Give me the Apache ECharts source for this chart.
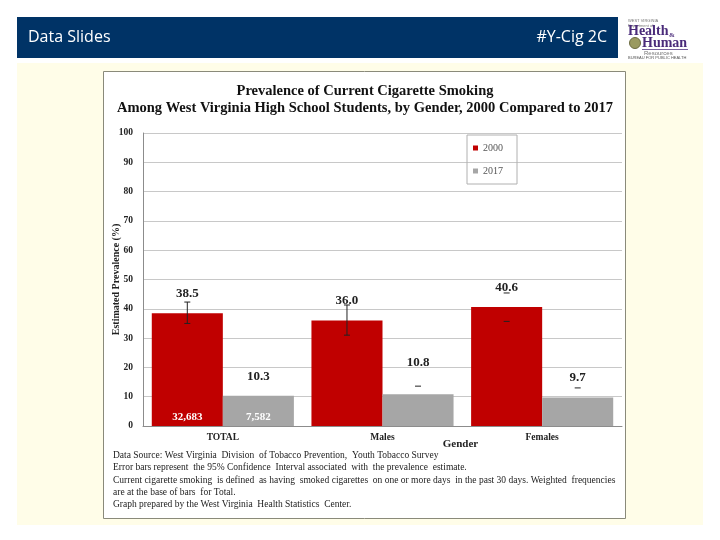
<!DOCTYPE html>
<html>
<head>
<meta charset="utf-8">
<script src="https://cdn.jsdelivr.net/npm/echarts@6/dist/echarts.min.js"></script>
<style>
html,body{margin:0;padding:0;background:#fff;}
#chart{width:720px;height:540px;}
</style>
</head>
<body>
<div id="chart"></div>
<script>
// ---- data ----
const categories = ['TOTAL', 'Males', 'Females'];
const seriesNames = ['2000', '2017'];
const prev2000 = [38.5, 36.0, 40.6];
const prev2017 = [10.3, 10.8, 9.7];
const ci2000Low = [35.0, 31.0, 35.7];
const ci2000High = [42.3, 41.3, 45.4];
const ci2017Low = [null, null, null];
const ci2017High = [null, 13.6, 13.0];
const ci2000Stem = [true, true, false];
const freq2000 = ['32,683', null, null];
const freq2017 = ['7,582', null, null];
const yTicks = [0, 10, 20, 30, 40, 50, 60, 70, 80, 90, 100];

const headerLeft = 'Data Slides';
const headerRight = '#Y-Cig 2C';
const titleText = 'Prevalence of Current Cigarette Smoking\nAmong West Virginia High School Students, by Gender, 2000 Compared to 2017';
const yName = 'Estimated Prevalence (%)';
const xName = 'Gender';
const notes = [
  'Data Source: West Virginia  Division  of Tobacco Prevention,  Youth Tobacco Survey',
  'Error bars represent  the 95% Confidence  Interval associated  with  the prevalence  estimate.',
  'Current cigarette smoking  is defined  as having  smoked cigarettes  on one or more days  in the past 30 days. Weighted  frequencies',
  'are at the base of bars  for Total.',
  'Graph prepared by the West Virginia  Health Statistics  Center.'
];

const SERIF = '"Liberation Serif", "Times New Roman", serif';
const GAP = 0.11;

// error bar items: [categoryIndex, low, high, seriesIndex, stem]
const errItems = [];
categories.forEach((c, i) => {
  errItems.push([i, ci2000Low[i], ci2000High[i], 0, ci2000Stem[i] ? 1 : 0]);
  errItems.push([i, ci2017Low[i], ci2017High[i], 1, 0]);
});
const freqItems = [];
categories.forEach((c, i) => {
  if (freq2000[i]) freqItems.push([i, 0, freq2000[i], 0]);
  if (freq2017[i]) freqItems.push([i, 0, freq2017[i], 1]);
});

function barCenter(api, cat, s) {
  const bandW = api.size([1, 0])[0];
  const barW = bandW * (1 - GAP) / 2;
  const cx = api.coord([cat, 0])[0];
  return s === 0 ? cx - barW / 2 : cx + barW / 2;
}

const chart = echarts.init(document.getElementById('chart'));
chart.setOption({
  animation: false,
  backgroundColor: '#ffffff',
  title: {
    text: titleText,
    left: 360, top: 78, textAlign: 'center',
    textStyle: { fontFamily: SERIF, fontWeight: 'bold', fontSize: 14.5, lineHeight: 17, color: '#111' }
  },
  legend: {
    data: seriesNames,
    orient: 'vertical',
    left: 467, top: 135,
    width: 48,
    itemWidth: 5, itemHeight: 5,
    itemGap: 13,
    icon: 'rect',
    padding: [8, 14, 8, 6],
    borderColor: '#b0b0b0', borderWidth: 1,
    textStyle: { fontFamily: SERIF, fontSize: 10, color: '#555' }
  },
  grid: { left: 143, right: 98, top: 133, bottom: 114 },
  xAxis: {
    type: 'category',
    data: categories,
    name: xName,
    nameLocation: 'middle',
    nameGap: 13,
    nameMoveOverlap: false,
    nameTextStyle: { fontFamily: SERIF, fontWeight: 'bold', fontSize: 11, color: '#222', padding: [0, 0, 0, 156] },
    axisLine: { lineStyle: { color: '#8c8c8c' } },
    axisTick: { show: false },
    axisLabel: { fontFamily: SERIF, fontWeight: 'bold', fontSize: 9.5, color: '#222', margin: 7 }
  },
  yAxis: {
    type: 'value',
    min: yTicks[0], max: yTicks[yTicks.length - 1], interval: yTicks[1] - yTicks[0],
    name: yName,
    nameLocation: 'middle',
    nameGap: 22,
    nameMoveOverlap: false,
    nameTextStyle: { fontFamily: SERIF, fontWeight: 'bold', fontSize: 10, color: '#222' },
    axisLine: { show: true, lineStyle: { color: '#8c8c8c' } },
    axisTick: { show: false },
    splitLine: { lineStyle: { color: '#c8c8c8' } },
    axisLabel: { fontFamily: SERIF, fontWeight: 'bold', fontSize: 9.5, color: '#222', margin: 10 }
  },
  series: [
    {
      name: seriesNames[0], type: 'bar',
      data: prev2000,
      barGap: '0%', barCategoryGap: (GAP * 100) + '%',
      itemStyle: { color: '#c00000' },
      label: {
        show: true, position: 'top', distance: 13,
        formatter: p => p.value.toFixed(1),
        fontFamily: SERIF, fontWeight: 'bold', fontSize: 13, color: '#222'
      },
      z: 2
    },
    {
      name: seriesNames[1], type: 'bar',
      data: prev2017.map((v, i) => i === 1 ? { value: v, label: { distance: 25 } } : v),
      barGap: '0%', barCategoryGap: (GAP * 100) + '%',
      itemStyle: { color: '#a6a6a6' },
      label: {
        show: true, position: 'top', distance: 13,
        formatter: p => p.value.toFixed(1),
        fontFamily: SERIF, fontWeight: 'bold', fontSize: 13, color: '#222'
      },
      z: 2
    },
    {
      type: 'custom', name: 'ci', silent: true, z: 5,
      data: errItems,
      encode: { x: 0, y: [1, 2] },
      renderItem: function (params, api) {
        const cat = api.value(0), lo = api.value(1), hi = api.value(2), s = api.value(3), stem = api.value(4);
        const x = barCenter(api, cat, s);
        const children = [];
        const style = { stroke: '#222', lineWidth: 1 };
        const hw = 3;
        let yHi = null, yLo = null;
        if (hi != null && !isNaN(hi)) {
          yHi = api.coord([cat, hi])[1];
          children.push({ type: 'line', shape: { x1: x - hw, y1: yHi, x2: x + hw, y2: yHi }, style });
        }
        if (lo != null && !isNaN(lo)) {
          yLo = api.coord([cat, lo])[1];
          children.push({ type: 'line', shape: { x1: x - hw, y1: yLo, x2: x + hw, y2: yLo }, style });
        }
        if (stem && yHi != null && yLo != null) {
          children.push({ type: 'line', shape: { x1: x, y1: yHi, x2: x, y2: yLo }, style });
        }
        return { type: 'group', children };
      }
    },
    {
      type: 'custom', name: 'freq', silent: true, z: 6,
      data: freqItems,
      encode: { x: 0, y: 1 },
      renderItem: function (params, api) {
        const cat = api.value(0), s = api.value(3);
        const x = barCenter(api, cat, s);
        const y = api.coord([cat, 0])[1];
        return {
          type: 'text',
          style: {
            x: x, y: y - 9, text: freqItems[params.dataIndex][2],
            align: 'center', verticalAlign: 'middle',
            fill: '#ffffff', font: 'bold 11px ' + SERIF
          }
        };
      }
    }
  ],
  graphic: [
    { type: 'rect', z: -10, shape: { x: 17, y: 63, width: 686, height: 462 }, style: { fill: '#fffde8' } },
    { type: 'rect', z: -9, shape: { x: 103.5, y: 71.5, width: 522, height: 447 }, style: { fill: '#ffffff', stroke: '#8a8a7a', lineWidth: 1 } },
    { type: 'rect', z: -8, shape: { x: 17, y: 17, width: 601, height: 41 }, style: { fill: '#003366' } },
    { type: 'text', z: 10, style: { x: 28, y: 37.5, text: headerLeft, fill: '#ffffff', font: '16px "Open Sans", "Noto Sans", sans-serif', verticalAlign: 'middle' } },
    { type: 'text', z: 10, style: { x: 607, y: 37.5, text: headerRight, fill: '#ffffff', font: '16px "Open Sans", "Noto Sans", sans-serif', align: 'right', verticalAlign: 'middle' } },
    // logo
    { type: 'text', z: 10, style: { x: 628, y: 19, text: 'WEST VIRGINIA\nDepartment of', fill: '#777', font: '4px "Liberation Sans", sans-serif', lineHeight: 4.5 } },
    { type: 'text', z: 10, style: { x: 628, y: 24, text: 'Health', fill: '#4a2b7a', font: 'bold 14px ' + SERIF } },
    { type: 'text', z: 10, style: { x: 669, y: 32, text: '&', fill: '#4a2b7a', font: 'bold 7px ' + SERIF } },
    { type: 'circle', z: 10, shape: { cx: 635, cy: 43, r: 5.5 }, style: { fill: '#9a9a60', stroke: '#6b6b40', lineWidth: 1 } },
    { type: 'text', z: 10, style: { x: 642, y: 36, text: 'Human', fill: '#4a2b7a', font: 'bold 14px ' + SERIF } },
    { type: 'rect', z: 10, shape: { x: 642, y: 49, width: 46, height: 0.8 }, style: { fill: '#4a2b7a' } },
    { type: 'text', z: 10, style: { x: 644, y: 50, text: 'Resources', fill: '#777', font: '6px "Liberation Sans", sans-serif' } },
    { type: 'text', z: 10, style: { x: 628, y: 55.5, text: 'BUREAU FOR PUBLIC HEALTH', fill: '#555', font: '4px "Liberation Sans", sans-serif' } },
    // notes
    { type: 'text', z: 10, style: { x: 113, y: 449, text: notes.join('\n'), fill: '#222', font: '9.5px ' + SERIF, lineHeight: 12.4 } }
  ]
});
</script>
</body>
</html>
